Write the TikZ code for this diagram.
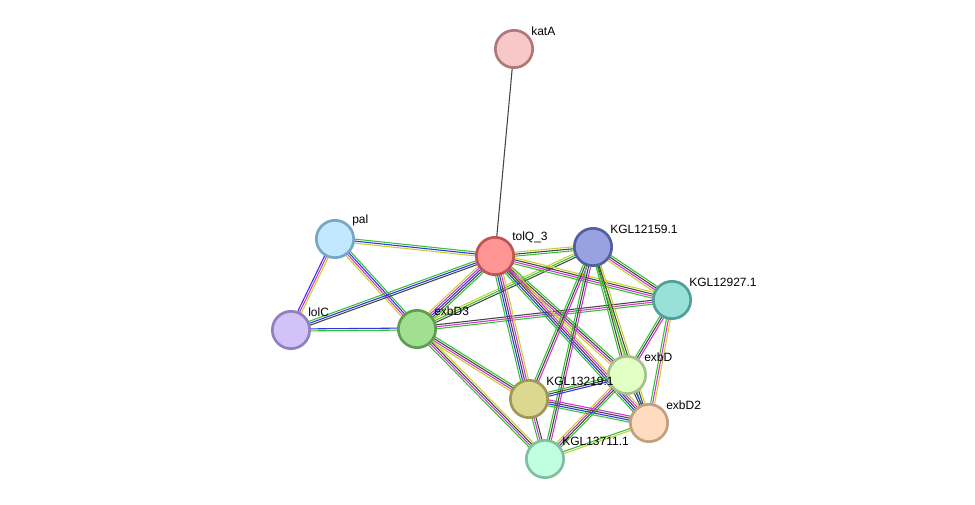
\documentclass[tikz,border=0pt]{standalone}
\usepackage{fontspec}
\setmainfont{Liberation Sans}
\usetikzlibrary{calc,backgrounds}
\definecolor{Y}{HTML}{C4D22C}
\definecolor{M}{HTML}{D333D3}
\definecolor{B}{HTML}{3333E6}
\definecolor{G}{HTML}{33C233}
\definecolor{K}{HTML}{454545}
\tikzset{prot/.style={circle,draw,line width=2pt,minimum size=28pt,inner sep=0pt},
lab/.style={font=\fontsize{9}{10}\selectfont,anchor=south west,inner sep=0pt}}
\newcommand\edg[3]{%
  \gdef\nn{0}\foreach \c in {#3}{\xdef\nn{\the\numexpr\nn+1}}%
  \foreach \c [count=\i] in {#3}{%
    \pgfmathsetmacro\off{(\i-(\nn+1)/2)*1.5}%
    \draw[\c,line width=0.8pt] ($(#1)!\off pt!90:(#2)$) -- ($(#2)!\off pt!-90:(#1)$);}}
\newcommand\prot[6]{\definecolor{f#1}{HTML}{#4}\definecolor{d#1}{HTML}{#5}%
  \node[prot,fill=f#1,draw=d#1] (#1) at (#2,#3) {};
  \node[lab] (#1l) at (#2+17,#3-13) {#6};}
\begin{document}
\begin{tikzpicture}[x=0.75pt,y=-0.75pt]
\useasboundingbox (0,0) rectangle (975,505);
\prot{katA}{514}{49}{F8C8C8}{B07878}{katA}
\prot{pal}{335}{239}{C2E8FF}{78A6C6}{pal}
\prot{tolQ}{495}{256}{FF9494}{C05454}{tolQ\_3}
\prot{k159}{593}{247}{98A2E0}{5060A0}{KGL12159.1}
\prot{k927}{672}{300}{98E0D8}{50A098}{KGL12927.1}
\prot{lolC}{291}{330}{D2C2F8}{9080C0}{lolC}
\prot{exbD3}{417}{329}{A0E090}{5E9E50}{exbD3}
\prot{exbD}{627}{375}{E2FFC4}{A8C090}{exbD}
\prot{k219}{529}{399}{DCD890}{A09858}{KGL13219.1}
\prot{exbD2}{649}{423}{FFDCC0}{C0A080}{exbD2}
\prot{k711}{545}{459}{C0FFE0}{80C0A0}{KGL13711.1}
\begin{scope}[on background layer]
\edg{katA}{tolQ}{K}
\edg{pal}{tolQ}{Y,B,G}
\edg{pal}{lolC}{B,M,Y}
\edg{pal}{exbD3}{Y,M,B,G}
\edg{lolC}{tolQ}{K,B,G}
\edg{lolC}{exbD3}{G,B}
\edg{tolQ}{exbD3}{Y,M,B,K,G}
\edg{exbD3}{k159}{K,G,Y}
\edg{exbD3}{k927}{G,M,K}
\edg{exbD3}{k219}{Y,M,K,G}
\edg{exbD3}{k711}{G,M,K,Y}
\edg{tolQ}{k159}{G,K,Y}
\edg{tolQ}{k927}{G,M,K,Y}
\edg{tolQ}{exbD}{Y,M,K,G}
\edg{tolQ}{exbD2}{G,B,K,M,Y}
\edg{tolQ}{k219}{G,B,K,M,Y}
\edg{k159}{k927}{Y,M,K,G}
\edg{k159}{exbD}{G,K,Y}
\edg{k159}{exbD2}{G,K,Y}
\edg{k159}{k219}{G,K,M}
\edg{k159}{k711}{G,K,M}
\edg{k927}{exbD}{G,K,M}
\edg{k927}{exbD2}{G,M,Y}
\edg{exbD}{k219}{G,K,B}
\edg{exbD}{k711}{Y,M,K,G}
\edg{exbD}{exbD2}{K,B}
\edg{k219}{exbD2}{G,B,K,M}
\edg{k219}{k711}{G,M,K}
\edg{exbD2}{k711}{G,Y}
\end{scope}
\end{tikzpicture}
\end{document}
